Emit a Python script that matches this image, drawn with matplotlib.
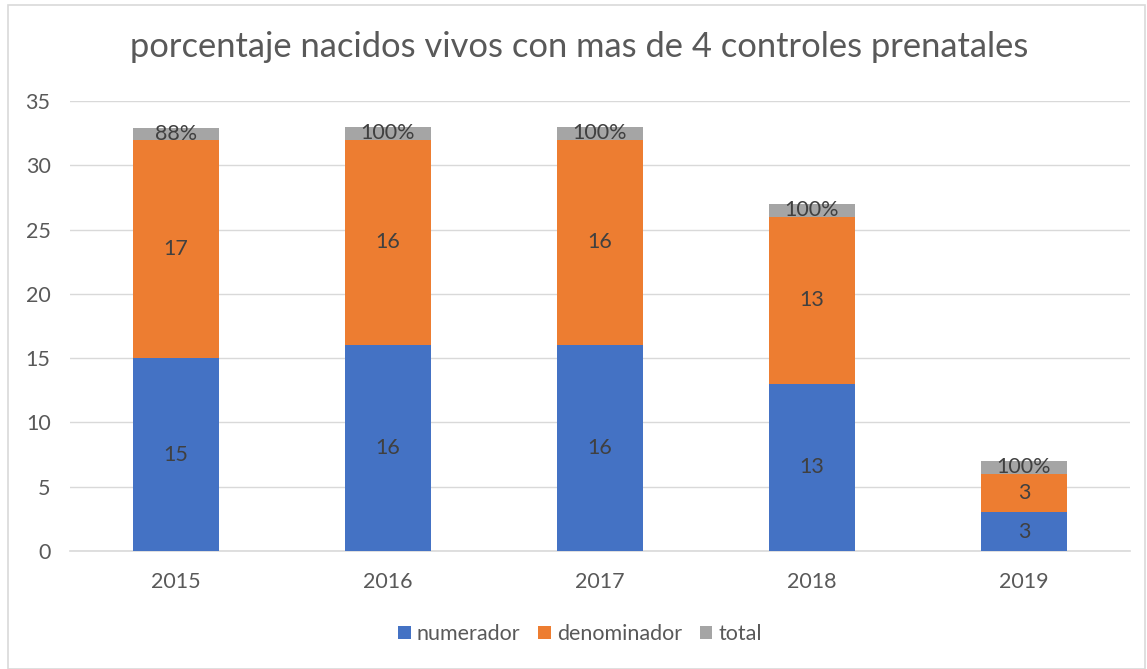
import numpy as np
import matplotlib
matplotlib.use('Agg')
from matplotlib import pyplot as plt
from matplotlib.patches import Rectangle

# data
years = ['2015', '2016', '2017', '2018', '2019']
numerador = [15, 16, 16, 13, 3]
denominador = [17, 16, 16, 13, 3]
total = [0.88, 1.0, 1.0, 1.0, 1.0]
total_labels = ['88%', '100%', '100%', '100%', '100%']

BLUE = '#4472C4'
ORANGE = '#ED7D31'
GREY = '#A5A5A5'
TXT = '#595959'
LBL = '#404040'

plt.rcParams['font.family'] = ['Lato', 'DejaVu Sans']

fig = plt.figure(figsize=(11.47, 6.69), dpi=100)
ax = fig.add_axes([70 / 1147, 1 - 551 / 669, 1060 / 1147, 450 / 669])

x = np.arange(len(years))
w = 0.405
num = np.array(numerador)
den = np.array(denominador)
tot = np.array(total)

b1 = ax.bar(x, num, w, color=BLUE, label='numerador', zorder=3)
b2 = ax.bar(x, den, w, bottom=num, color=ORANGE, label='denominador', zorder=3)
b3 = ax.bar(x, tot, w, bottom=num + den, color=GREY, label='total', zorder=3)

ax.bar_label(b1, labels=[str(v) for v in numerador], label_type='center',
             color=LBL, fontsize=15.5)
ax.bar_label(b2, labels=[str(v) for v in denominador], label_type='center',
             color=LBL, fontsize=15.5)
ax.bar_label(b3, labels=total_labels, label_type='center',
             color=LBL, fontsize=15.5)

ax.set_xlim(-0.5, len(years) - 0.5)
ax.set_ylim(0, 35)
ax.set_yticks(range(0, 36, 5))
ax.set_xticks(x)
ax.set_xticklabels(years)
ax.yaxis.grid(True, color='#D9D9D9', linewidth=1, zorder=0)
ax.set_axisbelow(True)
for s in ['top', 'right', 'left']:
    ax.spines[s].set_visible(False)
ax.spines['bottom'].set_color('#D9D9D9')
ax.spines['bottom'].set_linewidth(1.2)
ax.tick_params(axis='both', length=0, colors=TXT, labelsize=15.5)
ax.tick_params(axis='x', pad=15)
ax.tick_params(axis='y', pad=14)

fig.text(0.505, 1 - 47 / 669, 'porcentaje nacidos vivos con mas de 4 controles prenatales',
         ha='center', va='center', fontsize=24.8, color=TXT)

fig.legend(handles=[b1, b2, b3], loc='center', bbox_to_anchor=(580 / 1147, 1 - 634 / 669),
           ncol=3, frameon=False, fontsize=15.5, labelcolor=TXT,
           handlelength=0.6, handleheight=0.6, handletextpad=0.3, columnspacing=0.8)

# chart area border
fig.patches.append(Rectangle((8 / 1147, 0), 1 - 10 / 1147, 1 - 5 / 669,
                             transform=fig.transFigure, fill=False,
                             edgecolor='#D9D9D9', linewidth=1.2))

fig.savefig('out.png', dpi=100)
